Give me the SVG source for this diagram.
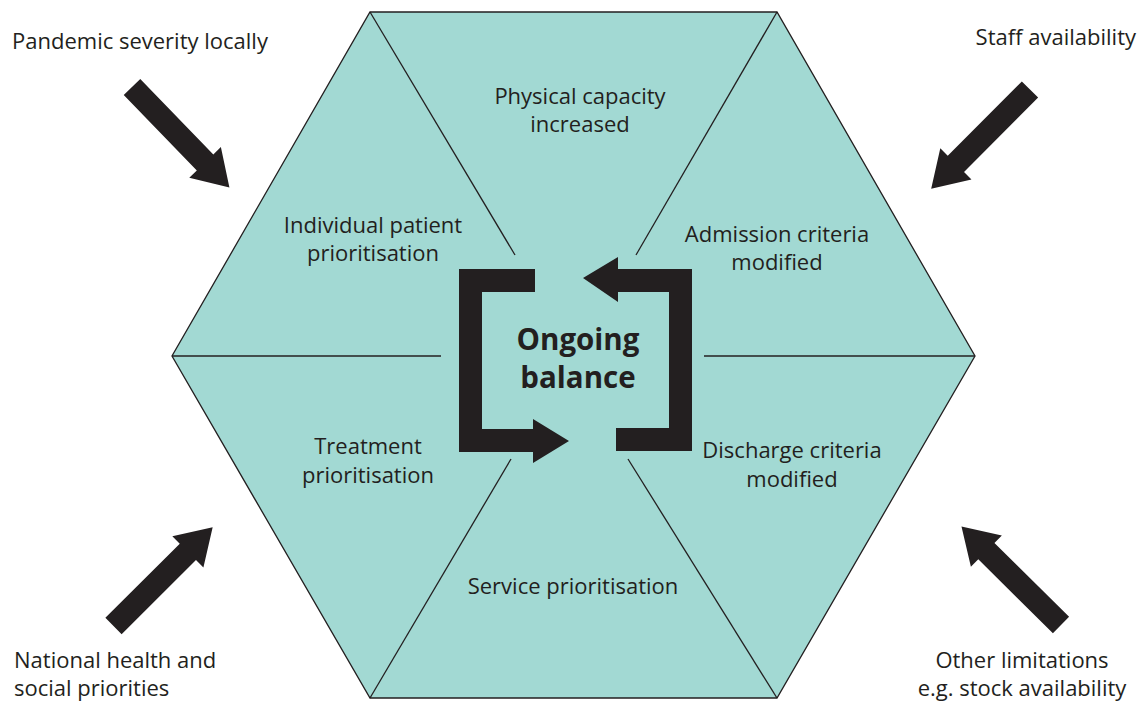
<svg xmlns="http://www.w3.org/2000/svg" width="1140" height="702" viewBox="0 0 1140 702">
<defs>
<style>
text{font-family:"Open Sans","Noto Sans","Liberation Sans",sans-serif;fill:#231f20;font-size:22px}
.c{text-anchor:middle}
.b{font-weight:bold;font-size:29.5px}
.sp{stroke:#231f20;stroke-width:1.3;fill:none}
.ar{fill:#231f20}
</style>
<path id="bigArrow" d="M0,-11.5 L105,-11.5 L105,-22 L140,0 L105,22 L105,11.5 L0,11.5 Z"/>
</defs>
<rect width="1140" height="702" fill="#ffffff"/>
<g id="hexagon">
<polygon points="370,12 777,12 975,356 777,698 370,698 172,356" fill="#a2d9d3" stroke="#231f20" stroke-width="1.3"/>
</g>
<g id="connectors">
<line class="sp" x1="370" y1="12" x2="515" y2="255"/>
<line class="sp" x1="777" y1="12" x2="636" y2="255"/>
<line class="sp" x1="172" y1="356" x2="441" y2="356"/>
<line class="sp" x1="704" y1="356" x2="975" y2="356"/>
<line class="sp" x1="370" y1="698" x2="511" y2="459"/>
<line class="sp" x1="777" y1="698" x2="628" y2="459"/>
<use href="#bigArrow" class="ar" transform="translate(132,87) rotate(45.9)"/>
<use href="#bigArrow" class="ar" transform="translate(1030,89.5) rotate(134.9)"/>
<use href="#bigArrow" class="ar" transform="translate(113.5,626) rotate(-44.9)"/>
<use href="#bigArrow" class="ar" transform="translate(1061,625) rotate(-135.3)"/>
</g>
<g id="center">
<path class="ar" d="M459,269 L535,269 L535,292 L482,292 L482,429 L533,429 L533,419 L569,441 L533,463 L533,452 L459,452 Z"/>
<path class="ar" d="M692,269 L692,451 L616,451 L616,428 L669,428 L669,292 L618,292 L618,302 L583,278 L618,257 L618,269 Z"/>
<text class="c b" x="578" y="350">Ongoing</text>
<text class="c b" x="578" y="388">balance</text>
</g>
<g id="segments">
<text class="c" x="580" y="104">Physical capacity</text>
<text class="c" x="580" y="132">increased</text>
<text class="c" x="373" y="233">Individual patient</text>
<text class="c" x="373" y="261">prioritisation</text>
<text class="c" x="777" y="242">Admission criteria</text>
<text class="c" x="777" y="270">modified</text>
<text class="c" x="368" y="454">Treatment</text>
<text class="c" x="368" y="483">prioritisation</text>
<text class="c" x="792" y="458">Discharge criteria</text>
<text class="c" x="792" y="487">modified</text>
<text class="c" x="573" y="594">Service prioritisation</text>
</g>
<g id="factors">
<text x="12" y="49">Pandemic severity locally</text>
<text x="1136" y="45" text-anchor="end">Staff availability</text>
<text x="14" y="668">National health and</text>
<text x="14" y="696">social priorities</text>
<text class="c" x="1022" y="668">Other limitations</text>
<text class="c" x="1022" y="696">e.g. stock availability</text>
</g>
</svg>
